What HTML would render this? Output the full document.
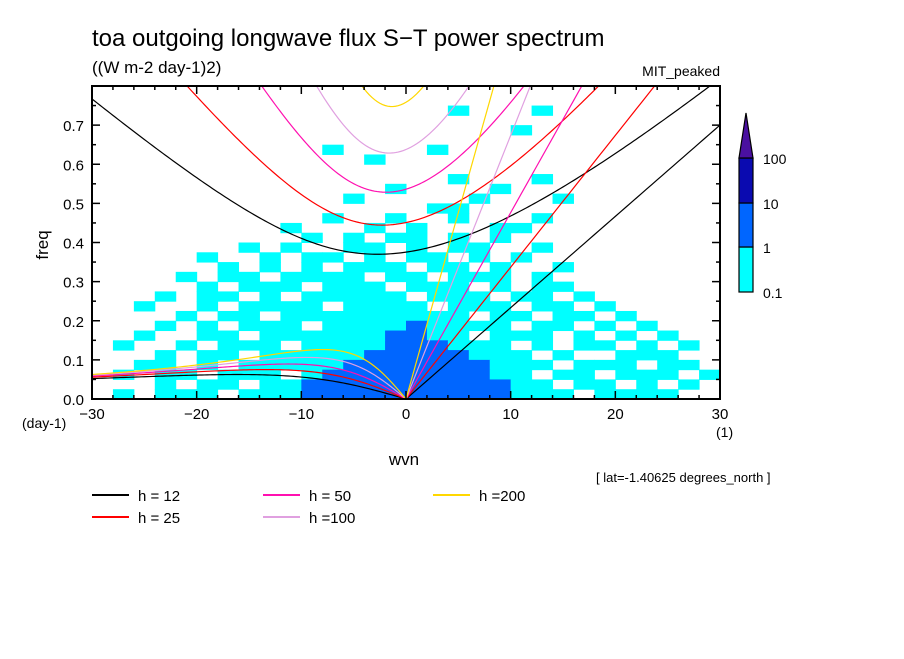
<!DOCTYPE html>
<html><head><meta charset="utf-8"><style>
body{margin:0;background:#fff;}
svg text{font-family:"Liberation Sans",sans-serif;fill:#000;}
</style></head><body>
<svg id="chart" width="904" height="654" viewBox="0 0 904 654" xmlns="http://www.w3.org/2000/svg">
<rect width="904" height="654" fill="#fff"/>
<text x="92" y="46" font-size="24">toa outgoing longwave flux S−T power spectrum</text>
<text x="92" y="73" font-size="17">((W m-2 day-1)2)</text>
<text x="720" y="76" font-size="14" text-anchor="end">MIT_peaked</text>
<defs><clipPath id="clip"><rect x="92" y="86" width="628" height="313"/></clipPath></defs>
<g id="cells" clip-path="url(#clip)"></g>
<g id="curves" clip-path="url(#clip)"></g>
<g id="axes"></g>
<text transform="translate(48,245) rotate(-90)" font-size="17" text-anchor="middle">freq</text>
<text x="22" y="428" font-size="14">(day-1)</text>
<text x="716" y="437" font-size="14">(1)</text>
<text x="404" y="465" font-size="17" text-anchor="middle">wvn</text>
<text x="596" y="482" font-size="13">[ lat=-1.40625 degrees_north ]</text>
<g id="colorbar"></g>
<g id="legend"></g>
</svg>
<script>
const xTicks=[-30,-20,-10,0,10,20,30];
const yTicks=[0.0,0.1,0.2,0.3,0.4,0.5,0.6,0.7];
const depths=[12,25,50,100,200];
const depthLabels=["h = 12","h = 25","h = 50","h =100","h =200"];
const depthColors=["#000000","#ff0000","#ff10b0","#e0a0e0","#ffd700"];
const levelLabels=["0.1","1","10","100"];
const levelColors=["#ffffff","#00ffff","#0066ff","#0a0ab0"];
// power field: rows from freq 0.8 (top) to 0.0, columns wvn -30..30 in steps of 2; digit = contour level
const fieldRows=[
"000000000000000000000000000000",
"000000000000000000000000000000",
"000000000000000001000100000000",
"000000000000000000000000000000",
"000000000000000000001000000000",
"000000000000000000000000000000",
"000000000001000010000000000000",
"000000000000010000000000000000",
"000000000000000000000000000000",
"000000000000000001000100000000",
"000000000000001000010000000000",
"000000000000100000100010000000",
"000000000000000011000000000000",
"000000000001001001000100000000",
"000000000100010100011000000000",
"000000000010101101010000000000",
"000000010100110101100100000000",
"000001001011010110101000000000",
"000000101010111011010010000000",
"000010110111101101110100000000",
"000001011101110111010110000000",
"000101101011111011101101000000",
"001001011110111101110110100000",
"000010110111111111011011010000",
"000101011101111211110110101000",
"001001101111112211011101010100",
"010010111011112221110101101010",
"000101101111122222111010011100",
"001101011111222222211101110110",
"010110111012222222211011011101",
"000101101122222222221101101010",
"010111011122222222221110111100"];
const NS="http://www.w3.org/2000/svg";
const X0=92,X1=720,Y0=399,Y1=86,XMIN=-30,XMAX=30,YMAX=0.8;
const sx=v=>X0+(v-XMIN)/(XMAX-XMIN)*(X1-X0);
const sy=v=>Y0-v/YMAX*(Y0-Y1);
function mk(tag,attrs,parent){const e=document.createElementNS(NS,tag);for(const k in attrs)e.setAttribute(k,attrs[k]);parent.appendChild(e);return e;}
const cells=document.getElementById('cells');
const nR=fieldRows.length, dF=YMAX/nR;
fieldRows.forEach((row,r)=>{
  const nC=row.length, dK=(XMAX-XMIN)/nC;
  for(let c=0;c<nC;c++){
    const lv=+row[c]; if(!lv) continue;
    const k0=XMIN+c*dK, f1=YMAX-r*dF, f0=f1-dF;
    const el=mk('rect',{x:sx(k0),y:sy(f1),width:sx(k0+dK)-sx(k0)+0.5,height:sy(f0)-sy(f1)+0.5,fill:levelColors[lv]},cells);
    
    
  }
});
const curves=document.getElementById('curves');
function root(kh,w){for(let i=0;i<60;i++){const f=w*w*w-(kh*kh+3)*w-kh, d=3*w*w-(kh*kh+3); w-=f/d;} return w;}
depths.forEach((h,i)=>{
  const w0=0.2167*Math.pow(h/12,0.25), K0=0.1077*Math.pow(h/12,0.25);
  const col=depthColors[i];
  let p=[]; for(let k=0;k<=30;k+=0.5){p.push(sx(k)+','+sy(w0*K0*k));}
  let e=mk('polyline',{points:p.join(' '),fill:'none',stroke:col,'stroke-width':1.2},curves);
  
  
  p=[]; for(let k=-30;k<=30;k+=0.25){const kh=k*K0; const w=root(kh,Math.sqrt(kh*kh+3)+1); p.push(sx(k)+','+sy(w*w0));}
  e=mk('polyline',{points:p.join(' '),fill:'none',stroke:col,'stroke-width':1.2},curves);
  
  
  p=[]; for(let k=-30;k<=0;k+=0.25){const kh=k*K0; const w=-kh/(kh*kh+3); p.push(sx(k)+','+sy(w*w0));}
  e=mk('polyline',{points:p.join(' '),fill:'none',stroke:col,'stroke-width':1.2},curves);
  
  
});
const ax=document.getElementById('axes');
let fr=mk('rect',{x:X0,y:Y1,width:X1-X0,height:Y0-Y1,fill:'none',stroke:'#000','stroke-width':2},ax);


for(let v=-30;v<=30;v+=2){const big=v%10===0, L=big?8:4;
  mk('line',{x1:sx(v),y1:Y0,x2:sx(v),y2:Y0-L,stroke:'#000','stroke-width':1.5},ax);
  mk('line',{x1:sx(v),y1:Y1,x2:sx(v),y2:Y1+L,stroke:'#000','stroke-width':1.5},ax);}
for(let j=0;j<=16;j++){const v=j*0.05, big=j%2===0, L=big?8:4;
  mk('line',{x1:X0,y1:sy(v),x2:X0+L,y2:sy(v),stroke:'#000','stroke-width':1.5},ax);
  mk('line',{x1:X1,y1:sy(v),x2:X1-L,y2:sy(v),stroke:'#000','stroke-width':1.5},ax);}
xTicks.forEach(v=>{const t=mk('text',{x:sx(v),y:419,'font-size':15,'text-anchor':'middle'},ax);t.textContent=(v<0?'−':'')+Math.abs(v);
  
  });
yTicks.forEach(v=>{const t=mk('text',{x:84,y:sy(v)+6,'font-size':15,'text-anchor':'end'},ax);t.textContent=v.toFixed(1);
  
  });
const cb=document.getElementById('colorbar');
const cbY=[292,247,203,158];
for(let i=1;i<levelColors.length;i++){const r=mk('rect',{x:739,y:cbY[i],width:14,height:cbY[i-1]-cbY[i],fill:levelColors[i],stroke:'#000','stroke-width':1.2},cb);
  
  }
const tri=mk('polygon',{points:'739,158 753,158 746,113',fill:'#4a10a0',stroke:'#000','stroke-width':1.2},cb);


levelLabels.forEach((s,i)=>{const t=mk('text',{x:763,y:cbY[i]+6,'font-size':14},cb);t.textContent=s;
  
  });
const lg=document.getElementById('legend');
const lx=[92,263,433], ly=[495,517];
depths.forEach((h,i)=>{const c=Math.floor(i/2), r=i%2, x=lx[c], y=ly[r];
  const g=mk('g',{},lg);
  
  
  mk('line',{x1:x,y1:y,x2:x+37,y2:y,stroke:depthColors[i],'stroke-width':2},g);
  const t=mk('text',{x:x+46,y:y+6,'font-size':15},g);t.textContent=depthLabels[i];});
</script>
</body></html>
